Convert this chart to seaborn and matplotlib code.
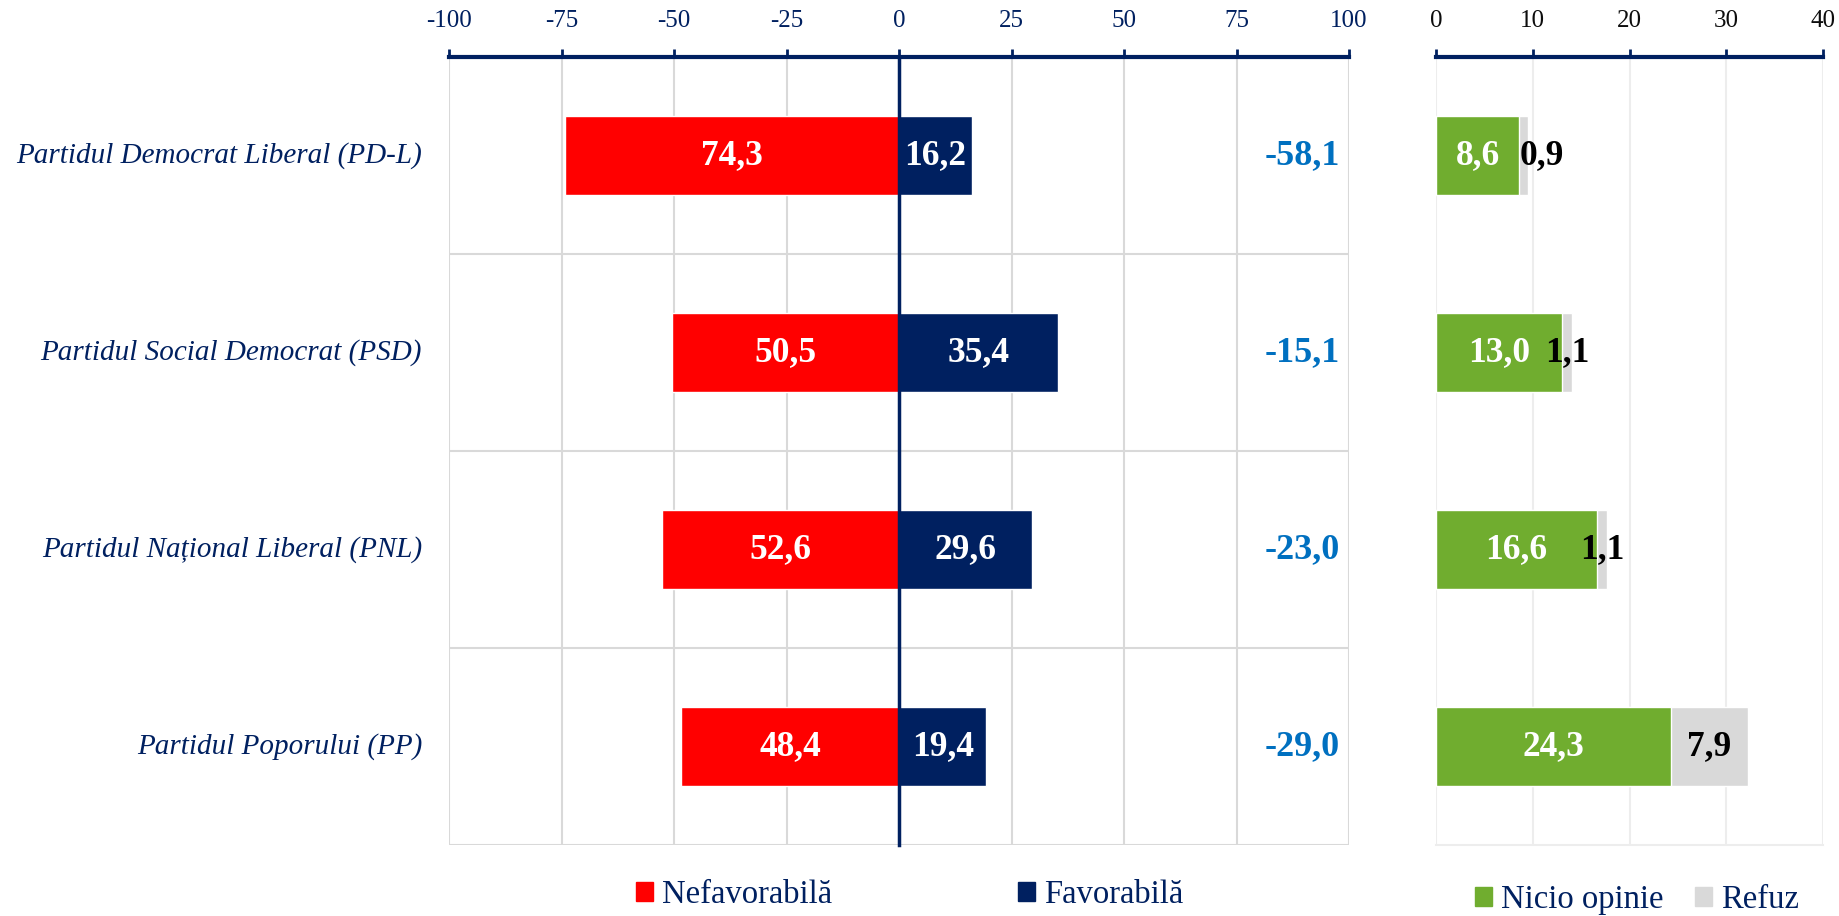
import pandas as pd
import seaborn as sns
import matplotlib.pyplot as plt
from matplotlib.patches import Patch
from matplotlib.transforms import blended_transform_factory

# Date
partide = ['Partidul Democrat Liberal (PD-L)', 'Partidul Social Democrat (PSD)',
           'Partidul Național Liberal (PNL)', 'Partidul Poporului (PP)']
nefavorabila = [74.3, 50.5, 52.6, 48.4]
favorabila = [16.2, 35.4, 29.6, 19.4]
nicio_opinie = [8.6, 13.0, 16.6, 24.3]
refuz = [0.9, 1.1, 1.1, 7.9]
ticks_stanga = [-100, -75, -50, -25, 0, 25, 50, 75, 100]
ticks_dreapta = [0, 10, 20, 30, 40]

ROSU = '#FF0000'
BLEUMARIN = '#002060'
VERDE = '#70AD2F'
GRI = '#D9D9D9'
ALBASTRU = '#0070C0'
FONT = 'Liberation Serif'


def virgula(v):
    return f'{v:.1f}'.replace('.', ',')


df = pd.DataFrame({
    'partid': partide,
    'nef': [-v for v in nefavorabila],
    'fav': favorabila,
    'nicio': nicio_opinie,
    'total': [a + b for a, b in zip(nicio_opinie, refuz)],
})
df['net'] = [f - n for f, n in zip(favorabila, nefavorabila)]

sns.set_style('white')
plt.rcParams['font.family'] = [FONT, 'DejaVu Serif']

fig = plt.figure(figsize=(18.39, 9.16), dpi=100)
ax = fig.add_axes([0.2442, 0.0775, 0.4894, 0.8603])
ax2 = fig.add_axes([0.7809, 0.0775, 0.2104, 0.8603])

# Panou stanga: nefavorabila / favorabila
sns.barplot(data=df, x='nef', y='partid', color=ROSU, width=0.4, saturation=1, ax=ax)
sns.barplot(data=df, x='fav', y='partid', color=BLEUMARIN, width=0.4, saturation=1, ax=ax)

ax.set_xlim(-100, 100)
ax.set_ylim(len(partide) - 0.5, -0.5)
ax.set_xticks(ticks_stanga)
ax.set_xticklabels([str(t) for t in ticks_stanga])
ax.set_xlabel('')
ax.set_ylabel('')
ax.xaxis.tick_top()
ax.tick_params(axis='x', colors=BLEUMARIN, length=6, width=2, direction='out',
               pad=12, labelsize=18)
ax.set_yticks(range(len(partide)))
ax.set_yticks([i - 0.5 for i in range(len(partide) + 1)], minor=True)
ax.set_yticklabels([])
ax.tick_params(axis='y', which='major', length=0)
ax.tick_params(axis='y', which='minor', length=5, width=2, color=BLEUMARIN, direction='out')
for s in ['bottom', 'right']:
    ax.spines[s].set_visible(False)
ax.spines['top'].set_color(BLEUMARIN)
ax.spines['top'].set_linewidth(3)
ax.spines['left'].set_position(('data', 0))
ax.spines['left'].set_color(BLEUMARIN)
ax.spines['left'].set_linewidth(2.5)
ax.set_axisbelow(True)
ax.grid(True, axis='x', which='major', color=GRI, lw=1.5)
ax.grid(True, axis='y', which='minor', color=GRI, lw=1.5)

trans = blended_transform_factory(ax.transAxes, ax.transData)
for i, p in enumerate(partide):
    ax.text(-0.03, i, p, transform=trans, ha='right', va='center',
            fontsize=21, style='italic', color=BLEUMARIN)

ax.bar_label(ax.containers[0], labels=[virgula(v) for v in nefavorabila], label_type='center',
             color='white', fontsize=25.5, fontweight='bold')
ax.bar_label(ax.containers[1], labels=[virgula(v) for v in favorabila], label_type='center',
             color='white', fontsize=25.5, fontweight='bold')
for i, v in enumerate(df['net']):
    ax.text(89.6, i, virgula(v), ha='center', va='center', color=ALBASTRU,
            fontsize=26, fontweight='bold')

ax.legend(handles=[Patch(color=ROSU), Patch(color=BLEUMARIN)],
          labels=['Nefavorabilă', 'Favorabilă'], ncol=2, loc='center',
          bbox_to_anchor=(0.512, -0.063), frameon=False, fontsize=23.5,
          handlelength=0.52, handleheight=0.52, handletextpad=0.28,
          columnspacing=5.7, labelcolor=BLEUMARIN)

# Panou dreapta: nicio opinie / refuz (stivuit)
sns.barplot(data=df, x='total', y='partid', color=GRI, width=0.4, saturation=1, ax=ax2)
sns.barplot(data=df, x='nicio', y='partid', color=VERDE, width=0.4, saturation=1, ax=ax2)

ax2.set_xlim(0, 40)
ax2.set_ylim(len(partide) - 0.5, -0.5)
ax2.set_xticks(ticks_dreapta)
ax2.set_xticklabels([str(t) for t in ticks_dreapta])
ax2.set_xlabel('')
ax2.set_ylabel('')
ax2.set_yticks([])
ax2.xaxis.tick_top()
ax2.tick_params(axis='x', colors=BLEUMARIN, labelcolor='#0D0D0D', length=6, width=2,
                direction='out', pad=12, labelsize=18)
for s in ['left', 'right']:
    ax2.spines[s].set_visible(False)
ax2.spines['top'].set_color(BLEUMARIN)
ax2.spines['top'].set_linewidth(3)
ax2.spines['bottom'].set_color('#EDEDED')
ax2.spines['bottom'].set_linewidth(1.5)
ax2.set_axisbelow(True)
ax2.grid(True, axis='x', color='#EDEDED', lw=1.5)
ax2.grid(False, axis='y')

ax2.bar_label(ax2.containers[1], labels=[virgula(v) for v in nicio_opinie], label_type='center',
              color='white', fontsize=25.5, fontweight='bold')
for i, (n, r) in enumerate(zip(nicio_opinie, refuz)):
    if r < 1:
        x, ha = n, 'left'
    else:
        x, ha = n + r / 2, 'center'
    ax2.text(x, i, virgula(r), ha=ha, va='center', color='black', fontsize=25.5, fontweight='bold')

ax2.legend(handles=[Patch(color=VERDE), Patch(color=GRI)],
           labels=['Nicio opinie', 'Refuz'], ncol=2, loc='center',
           bbox_to_anchor=(0.519, -0.07), frameon=False, fontsize=23.5,
           handlelength=0.52, handleheight=0.52, handletextpad=0.28,
           columnspacing=0.95, labelcolor=BLEUMARIN)

fig.savefig('out.png', dpi=100)
